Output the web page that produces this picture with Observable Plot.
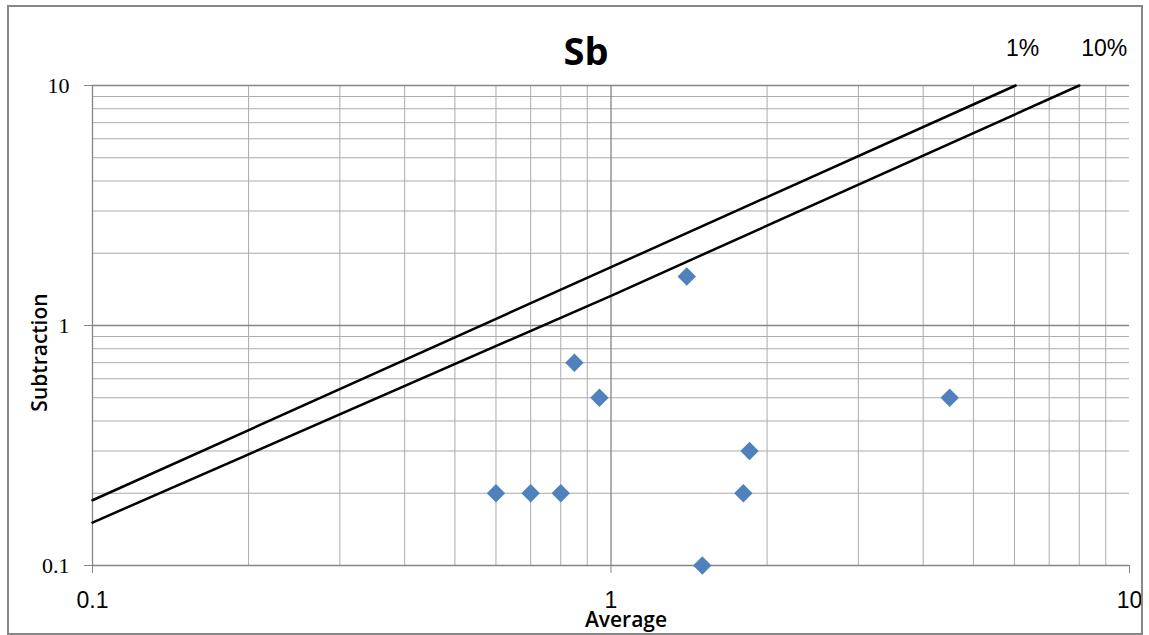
<!DOCTYPE html>
<html>
<head>
<meta charset="utf-8">
<script src="https://cdn.jsdelivr.net/npm/d3@7"></script>
<script src="https://cdn.jsdelivr.net/npm/@observablehq/plot@0.6"></script>
<style>
  html, body { margin: 0; padding: 0; background: #fff; }
  #wrap { position: relative; width: 1149px; height: 635px; overflow: hidden; }
  #border { position: absolute; left: 7px; top: 5px; width: 1132px; height: 626px;
            border: 2px solid #878787; pointer-events: none; }
</style>
</head>
<body>
<div id="wrap"><div id="border"></div></div>
<script>
// ---- data ----
const title = "Sb";
const xLabel = "Average";
const yLabel = "Subtraction";
const averageValues     = [0.6, 0.7, 0.8, 0.85, 0.95, 1.4, 1.5, 1.8, 1.85, 4.5];
const subtractionValues = [0.2, 0.2, 0.2, 0.7,  0.5,  1.6, 0.1, 0.2, 0.3,  0.5];
const line1Label = "1%";
const line1X = [0.1, 1, 6.03];
const line1Y = [0.187, 1.75, 10];
const line2Label = "10%";
const line2X = [0.1, 1, 8.0];
const line2Y = [0.151, 1.33, 10];
const xTicks = [0.1, 1, 10];
const yTicks = [0.1, 1, 10];
const xMinorGrid = [0.2, 0.3, 0.4, 0.5, 0.6, 0.7, 0.8, 0.9, 2, 3, 4, 5, 6, 7, 8, 9];
const xMajorGrid = [0.1, 1];
const yMinorGrid = [0.2, 0.3, 0.4, 0.5, 0.6, 0.7, 0.8, 0.9, 2, 3, 4, 5, 6, 7, 8, 9];
const yMajorGrid = [0.1, 1, 10];

// ---- build ----
const points = averageValues.map((x, i) => ({x, y: subtractionValues[i]}));
const line1 = line1X.map((x, i) => ({x, y: line1Y[i]}));
const line2 = line2X.map((x, i) => ({x, y: line2Y[i]}));
const label1 = [{x: line1X[line1X.length - 1], y: line1Y[line1Y.length - 1], t: line1Label}];
const label2 = [{x: line2X[line2X.length - 1], y: line2Y[line2Y.length - 1], t: line2Label}];
const sans = "Liberation Sans, Arial, sans-serif";

const chart = Plot.plot({
  width: 1149,
  height: 635,
  marginTop: 85,
  marginBottom: 70,
  marginLeft: 92,
  marginRight: 20,
  style: {background: "transparent", fontFamily: sans},
  x: {type: "log", domain: [0.1, 10]},
  y: {type: "log", domain: [0.1, 10]},
  marks: [
    Plot.ruleX(xMinorGrid, {stroke: "#ababab", strokeWidth: 1}),
    Plot.ruleY(yMinorGrid, {stroke: "#ababab", strokeWidth: 1}),
    Plot.ruleX(xMajorGrid, {stroke: "#858585", strokeWidth: 1.3}),
    Plot.ruleY(yMajorGrid, {stroke: "#858585", strokeWidth: 1.3}),
    Plot.axisX({ticks: xTicks, tickFormat: d => String(d), tickSize: 8, tickPadding: 18,
                stroke: "#858585", fill: "#000", fontSize: 23, fontFamily: sans, label: null}),
    Plot.axisY({ticks: yTicks, tickFormat: d => String(d), tickSize: 8, tickPadding: 15,
                stroke: "#858585", fill: "#000", fontSize: 22,
                fontFamily: "Liberation Serif, Times New Roman, serif", label: null}),
    Plot.line(line1, {x: "x", y: "y", stroke: "#000", strokeWidth: 2.5}),
    Plot.line(line2, {x: "x", y: "y", stroke: "#000", strokeWidth: 2.5}),
    Plot.dot(points, {x: "x", y: "y", symbol: "diamond2", r: 8.3, fill: "#4f81bd", stroke: "none"}),
    Plot.text(label1, {x: "x", y: "y", text: "t", dx: 7, dy: -37, fontSize: 23,
                       fill: "#000", fontFamily: sans}),
    Plot.text(label2, {x: "x", y: "y", text: "t", dx: 25, dy: -37, fontSize: 23,
                       fill: "#000", fontFamily: sans}),
    Plot.text([title], {frameAnchor: "top", lineAnchor: "middle", textAnchor: "middle",
                        text: d => d, dx: -25, dy: -33, fontSize: 38,
                        fontWeight: "bold", fill: "#000", fontFamily: "Open Sans, sans-serif"}),
    Plot.text([xLabel], {frameAnchor: "bottom", lineAnchor: "middle", textAnchor: "middle",
                         text: d => d, dx: 15, dy: 55, fontSize: 21,
                         fontWeight: 600, fill: "#000", fontFamily: "Open Sans, sans-serif"}),
    Plot.text([yLabel], {frameAnchor: "left", lineAnchor: "middle", textAnchor: "middle",
                         text: d => d, dx: -52, dy: 27, rotate: -90, fontSize: 21,
                         fontWeight: 600, fill: "#000", fontFamily: "Open Sans, sans-serif"})
  ]
});
document.getElementById("wrap").prepend(chart);
</script>
</body>
</html>
